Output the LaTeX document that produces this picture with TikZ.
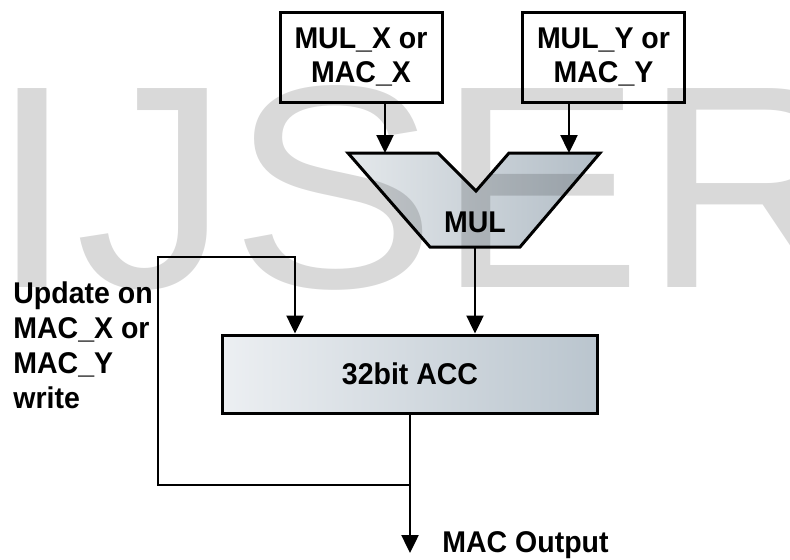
\documentclass[tikz,border=0pt]{standalone}
\usepackage{fontspec}
\setmainfont{Liberation Sans}[FakeStretch=0.95]
\newfontfamily\wmfont{Liberation Sans}[FakeStretch=1.07]
\usetikzlibrary{arrows.meta,positioning}
\definecolor{accl}{RGB}{236,239,242}
\definecolor{accr}{RGB}{186,197,206}
\definecolor{mull}{RGB}{228,232,235}
\definecolor{mulr}{RGB}{178,189,198}
\tikzset{blk/.style={draw,line width=1.5pt,minimum width=81pt,minimum height=45pt,inner sep=0pt,font=\bfseries\fontsize{15}{17}\selectfont,align=center},
         ar/.style={line width=1.2pt,-{Triangle[length=9pt,width=8.5pt]}},
         lbl/.style={inner sep=0pt,font=\bfseries\fontsize{15}{17.5}\selectfont,align=left},
         wmark/.style={inner sep=0pt,font=\wmfont\fontsize{144.6}{150}\selectfont,text=black,text opacity=0.15}}

\begin{document}
\begin{tikzpicture}[x=0.5pt,y=-0.5pt]
\useasboundingbox (0,0) rectangle (790,559);
% input registers
\node[blk,fill=white] (mulx) at (361,57) {MUL\_X or\\MAC\_X};
\node[blk,fill=white] (muly) at (603.5,57) {MUL\_Y or\\MAC\_Y};
% multiplier
\coordinate (mulinx) at (385,153);
\coordinate (muliny) at (569,153);
\coordinate (mulout) at (475,247);
\draw[line width=1.5pt,left color=mull,right color=mulr] (348,153) -- (438,153) -- (476,191) -- (509,153) -- (600,153) -- (520,247) -- (430,247) -- cycle;
\node[font=\bfseries\fontsize{15}{17}\selectfont] (mul) at (475,222) {MUL};
% accumulator
\node[blk,minimum width=187.5pt,minimum height=39pt,left color=accl,right color=accr] (acc) at (410,374) {32bit ACC};
\draw[ar] (mulinx |- mulx.south) -- (mulinx);
\draw[ar] (muliny |- muly.south) -- (muliny);
\draw[ar] (mulout) -- (mulout |- acc.north);
% feedback loop
\coordinate (tap) at (410,485);
\coordinate (loopl) at (158,257);
\coordinate (updx) at (295,257);
\draw[ar] (tap) -| (loopl) -- (updx) -- (updx |- acc.north);
\coordinate (outtip) at (410,553);
\draw[ar] (acc.south) -- (outtip);
\node[lbl,anchor=base west] (macout) at (442,552) {MAC Output};
\node[lbl,anchor=north west] (upd) at (13,281) {Update on\\MAC\_X or\\MAC\_Y\\write};
% watermark
\node[wmark,anchor=base west] (wm) at (-11,287) {IJSER};
\end{tikzpicture}
\end{document}
